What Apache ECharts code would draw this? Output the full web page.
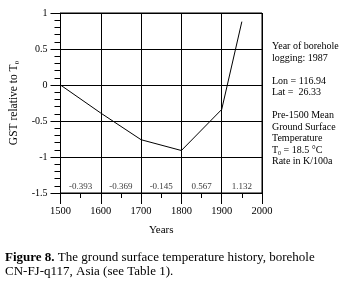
<!DOCTYPE html>
<html>
<head>
<meta charset="utf-8">
<title>GST history CN-FJ-q117</title>
<script src="https://cdn.jsdelivr.net/npm/echarts@6/dist/echarts.min.js"></script>
<style>
  html, body { margin: 0; padding: 0; background: #fff; }
  #chart { width: 344px; height: 287px; }
</style>
</head>
<body>
<div id="chart"></div>
<script>
// data
var years = [1500, 1600, 1700, 1800, 1900, 1950];
var gst = [0, -0.39, -0.76, -0.91, -0.34, 0.88];
// rate per century, written in the bottom row
var rateYears = [1550, 1650, 1750, 1850, 1950];
var rates = ['-0.393', '-0.369', '-0.145', '0.567', '1.132'];

var serif = '"Liberation Serif", "DejaVu Serif", serif';

var lineData = years.map(function (y, i) { return [y, gst[i]]; });
var rateData = rateYears.map(function (y, i) { return [y, -1.41, rates[i]]; });

var chart = echarts.init(document.getElementById('chart'));
var option = {
  animation: false,
  textStyle: { fontFamily: serif, color: '#000' },
  grid: {
    left: 57, top: 13, width: 205, height: 180,
    show: true, borderColor: '#000', borderWidth: 1
  },
  xAxis: {
    type: 'value', min: 1500, max: 2000, interval: 100,
    name: 'Years', nameLocation: 'middle', nameGap: 32,
    nameTextStyle: { fontFamily: serif, fontSize: 11, color: '#000' },
    axisLine: { onZero: false, lineStyle: { color: '#000', width: 1 } },
    axisTick: { length: 11, lineStyle: { color: '#000' } },
    minorTick: { show: true, splitNumber: 2, length: 5, lineStyle: { color: '#000' } },
    axisLabel: {
      margin: 13, fontFamily: serif, fontSize: 10.5, color: '#000',
      formatter: function (v) { return String(v); }
    },
    splitLine: { show: true, lineStyle: { color: '#000', width: 1 } }
  },
  yAxis: {
    type: 'value', min: -1.5, max: 1, interval: 0.5,
    name: 'GST relative to T{sub|0}', nameLocation: 'middle', nameGap: 40,
    nameTextStyle: {
      fontFamily: serif, fontSize: 11.5, color: '#000',
      rich: { sub: { fontFamily: serif, fontSize: 7, verticalAlign: 'bottom', padding: [6, 0, 0, 0] } }
    },
    axisLine: { show: true, onZero: false, lineStyle: { color: '#000', width: 1 } },
    axisTick: { show: true, length: 10, lineStyle: { color: '#000' } },
    minorTick: { show: true, splitNumber: 5, length: 6, lineStyle: { color: '#000' } },
    axisLabel: { margin: 13, fontFamily: serif, fontSize: 10, color: '#000' },
    splitLine: { show: true, lineStyle: { color: '#000', width: 1 } }
  },
  graphic: [{
    type: 'text', left: 272, top: 41,
    style: {
      text: 'Year of borehole\nlogging: 1987\n\nLon = 116.94\nLat =  26.33\n\nPre-1500 Mean\nGround Surface\nTemperature\nT{sub|0} = 18.5 °C\nRate in K/100a',
      font: '10px ' + serif, fill: '#000', lineHeight: 11.5,
      rich: { sub: { font: '6px ' + serif, fill: '#000', lineHeight: 11.5, verticalAlign: 'bottom' } }
    }
  }, {
    type: 'text', left: 5, top: 251,
    style: {
      text: '{b|Figure 8.} The ground surface temperature history, borehole\nCN-FJ-q117, Asia (see Table 1).',
      font: '13px ' + serif, fill: '#000', lineHeight: 14,
      rich: { b: { font: 'bold 13px ' + serif, fill: '#000', lineHeight: 14 } }
    }
  }],
  series: [{
    type: 'line',
    data: lineData,
    symbol: 'none',
    lineStyle: { color: '#000', width: 1 }
  }, {
    type: 'scatter',
    data: rateData,
    symbolSize: 0,
    label: {
      show: true, position: 'inside',
      formatter: function (p) { return p.value[2]; },
      fontFamily: serif, fontSize: 9, color: '#000'
    }
  }]
};
chart.setOption(option);
</script>
</body>
</html>
